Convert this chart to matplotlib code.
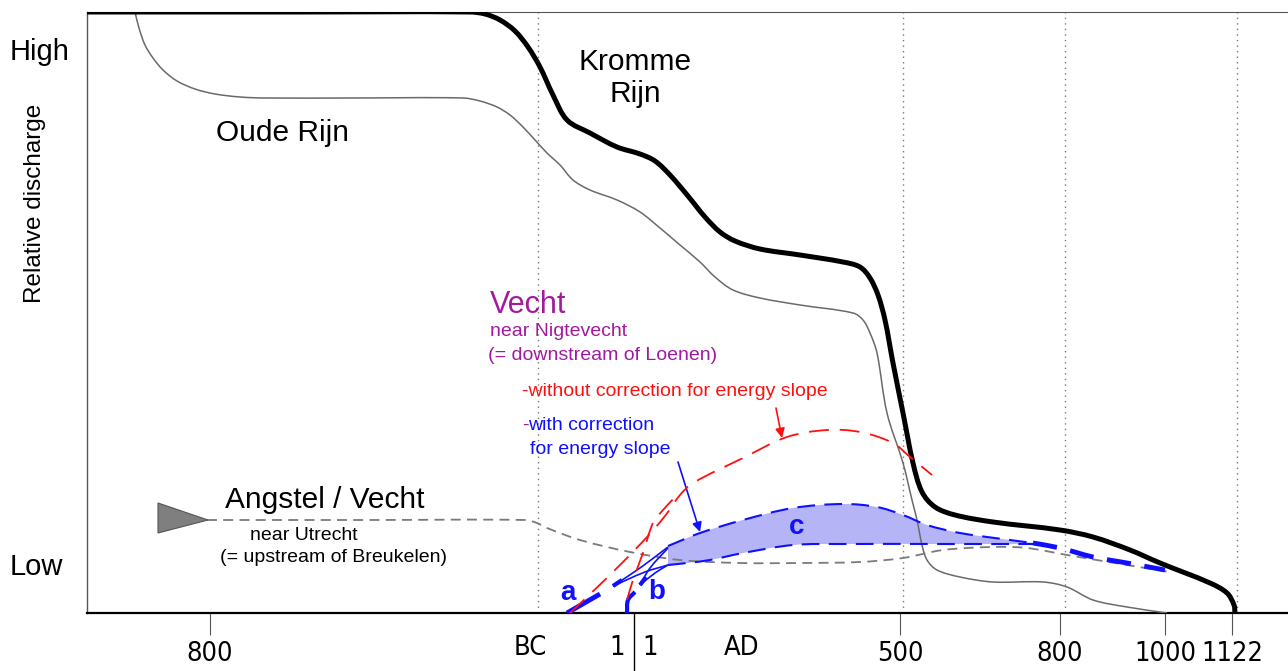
import numpy as np
import matplotlib
matplotlib.use("Agg")
import matplotlib.pyplot as plt
from matplotlib.path import Path
from matplotlib.patches import PathPatch, Polygon

plt.rcParams['font.family'] = ['Liberation Sans', 'DejaVu Sans']

# ---- data (x = time position on chart scale, y = relative discharge, 0 = low .. 601 = high)
kromme_x = [87, 300, 470, 485, 500, 515, 528, 540, 553, 567, 590, 617, 640, 655, 670, 688, 705, 720, 735, 760, 800,
            843, 860, 870, 878, 885, 893, 903, 913, 922, 935, 955, 993, 1060, 1093, 1130, 1160, 1210, 1227, 1234, 1235]
kromme_y = [601, 601, 601, 599, 593, 582, 566, 546, 518, 493, 480, 466, 459, 452, 438, 417, 396, 381, 372, 364, 358,
            351, 346, 335, 318, 293, 250, 200, 150, 121, 106, 98, 91, 83, 76, 63, 50, 30, 20, 8, 0]

oude_x = [135, 139, 145, 153, 163, 177, 195, 215, 240, 265, 350, 463, 480, 497, 510, 523, 535, 547, 560, 573, 590,
          617, 640, 660, 680, 700, 715, 733, 760, 800, 853, 863, 870, 877, 887, 903, 912, 917, 922, 927, 937, 960,
          993, 1043, 1067, 1093, 1127, 1167]
oude_y = [601, 585, 568, 555, 543, 532, 524, 519, 516, 515, 515, 515, 512, 506, 498, 486, 473, 460, 448, 433, 423,
          413, 401, 385, 368, 351, 336, 323, 315, 308, 300, 293, 280, 260, 200, 150, 113, 93, 68, 53, 43, 36,
          31, 31, 26, 13, 6, 0]

angstel_x = [207, 370, 525, 537, 547, 580, 630, 680, 740, 800, 860, 903, 943, 993, 1027, 1067, 1127, 1170]
angstel_y = [93, 93, 93, 90, 85, 73, 61, 53, 50, 50, 51, 55, 63, 66, 65, 58, 48, 41]

c_upper_x = [668, 700, 743, 793, 843, 877, 903, 927, 960, 1010, 1040]
c_upper_y = [67, 80, 93, 105, 109, 106, 98, 88, 80, 73, 69]
c_lower_x = [668, 687, 710, 743, 793, 843, 940, 1040]
c_lower_y = [48, 50, 53, 60, 68, 69, 69, 69]
c_tail_x = [1033, 1060, 1093, 1127, 1165]
c_tail_y = [70, 65, 56, 50, 43]

a_thick_x = [567, 600]
a_thick_y = [0, 19]
a_thin1_x = [613, 640, 668]
a_thin1_y = [27, 45, 66]
a_thin2_x = [613, 645, 668]
a_thin2_y = [27, 41, 48]

b_thick_x = [627, 628, 635]
b_thick_y = [0, 13, 21]
b_thin1_x = [640, 650, 668]
b_thin1_y = [28, 45, 65]
b_thin2_x = [640, 655, 668]
b_thin2_y = [28, 40, 48]

red_a_x = [570, 587, 620, 647, 665, 680, 693, 743, 787, 827, 860, 893, 910, 932]
red_a_y = [0, 16, 48, 76, 97, 118, 130, 155, 176, 183, 181, 170, 156, 138]
red_b_x = [627, 633, 643, 653, 663, 677]
red_b_y = [13, 33, 60, 90, 103, 118]

dotted_x = [538, 903, 1065, 1237]
tick_pos = [210, 900, 1060, 1165, 1232]
tick_labels = ["800", "500", "800", "1000", "1122"]
minor_pos = [530, 617, 650, 742]
minor_labels = ["BC", "1", "1", "AD"]

BLUE = '#1010ff'
RED = '#ff1010'
PURPLE = '#a3199f'


def smooth_path(xs, ys):
    pts = np.column_stack([xs, ys]).astype(float)
    n = len(pts)
    tans = []
    for i in range(n):
        a = pts[max(i - 1, 0)]
        b = pts[min(i + 1, n - 1)]
        d = b - a
        L = np.hypot(*d)
        tans.append(d / L if L > 0 else np.zeros(2))
    verts = [pts[0]]
    codes = [Path.MOVETO]
    for i in range(n - 1):
        p1, p2 = pts[i], pts[i + 1]
        seg = np.hypot(*(p2 - p1)) / 3.0
        verts += [p1 + tans[i] * seg, p2 - tans[i + 1] * seg, p2]
        codes += [Path.CURVE4] * 3
    return verts, codes


def draw_curve(ax, xs, ys, **kw):
    v, c = smooth_path(xs, ys)
    ax.add_patch(PathPatch(Path(v, c), fill=False, capstyle='butt', joinstyle='round', **kw))


fig = plt.figure(figsize=(12.88, 6.71), dpi=100)
ax = fig.add_axes([87 / 1288, 58 / 671, (1290 - 87) / 1288, 601 / 671])
ax.set_xlim(87, 1290)
ax.set_ylim(0, 601)

ax.spines['right'].set_visible(False)
ax.spines['left'].set_color('#555555')
ax.spines['left'].set_linewidth(1.0)
ax.spines['top'].set_color('#555555')
ax.spines['top'].set_linewidth(0.8)
ax.spines['bottom'].set_color('black')
ax.spines['bottom'].set_linewidth(1.6)

ax.set_yticks([])
ax.set_xticks(tick_pos)
ax.set_xticklabels(tick_labels)
ax.set_xticks(minor_pos, minor=True)
ax.set_xticklabels(minor_labels, minor=True)
ax.tick_params(axis='x', which='major', direction='out', length=16, width=0.8, color='#555555', pad=4)
ax.tick_params(axis='x', which='minor', length=0, pad=15.5)
for lab in ax.get_xticklabels(which='both'):
    lab.set_fontfamily(['DejaVu Sans'])
    lab.set_fontstretch('condensed')
    lab.set_fontsize(19.5)

# dotted reference lines
for xv in dotted_x:
    ax.axvline(xv, color='#777777', linestyle=(0, (1, 3)), linewidth=1.0, zorder=1)

# BC/AD divider
ax.plot([634, 634], [0, -60], color='black', linewidth=1.0, clip_on=False)

# rivers
draw_curve(ax, oude_x, oude_y, edgecolor='#6a6a6a', linewidth=1.1, zorder=3)
draw_curve(ax, kromme_x, kromme_y, edgecolor='black', linewidth=3.6, zorder=4)
draw_curve(ax, angstel_x, angstel_y, edgecolor='#7a7a7a', linewidth=1.3, linestyle=(0, (5.5, 3.5)), zorder=3)

# band c
vu, cu = smooth_path(c_upper_x, c_upper_y)
vl, cl = smooth_path(c_lower_x[::-1], c_lower_y[::-1])
verts = vu + [vl[0]] + vl[1:] + [vu[0]]
codes = cu + [Path.LINETO] + cl[1:] + [Path.CLOSEPOLY]
ax.add_patch(PathPatch(Path(verts, codes), facecolor='#b4b4f6', edgecolor='none', zorder=2))
draw_curve(ax, c_upper_x, c_upper_y, edgecolor=BLUE, linewidth=1.5, linestyle=(0, (8.5, 4.5)), zorder=5)
draw_curve(ax, c_lower_x, c_lower_y, edgecolor=BLUE, linewidth=1.5, linestyle=(0, (8.5, 4.5)), zorder=5)
draw_curve(ax, c_tail_x, c_tail_y, edgecolor=BLUE, linewidth=3.5, linestyle=(0, (5.0, 2.8)), zorder=5)

# a and b starts
ax.plot(a_thick_x, a_thick_y, color=BLUE, linewidth=3.5, solid_capstyle='butt', zorder=5)
draw_curve(ax, a_thin1_x, a_thin1_y, edgecolor=BLUE, linewidth=1.2, zorder=5)
draw_curve(ax, a_thin2_x, a_thin2_y, edgecolor=BLUE, linewidth=1.2, zorder=5)
ax.plot([613, 622], [27, 33], color=BLUE, linewidth=3.0, solid_capstyle='butt', zorder=5)
draw_curve(ax, b_thick_x, b_thick_y, edgecolor=BLUE, linewidth=3.0, zorder=5)
draw_curve(ax, b_thin1_x, b_thin1_y, edgecolor=BLUE, linewidth=1.2, zorder=5)
draw_curve(ax, b_thin2_x, b_thin2_y, edgecolor=BLUE, linewidth=1.2, zorder=5)
ax.plot([640, 646], [28, 36], color=BLUE, linewidth=3.0, solid_capstyle='butt', zorder=5)

# red curves
draw_curve(ax, red_a_x, red_a_y, edgecolor=RED, linewidth=1.3, linestyle=(0, (11, 6)), zorder=5)
draw_curve(ax, red_b_x, red_b_y, edgecolor=RED, linewidth=1.3, linestyle=(0, (11, 6)), zorder=5)

# arrows
ax.annotate('', xy=(782, 175), xytext=(776, 205),
            arrowprops=dict(arrowstyle='-|>', color=RED, lw=1.2, mutation_scale=14, shrinkA=0, shrinkB=0))
ax.annotate('', xy=(700, 81), xytext=(678, 151),
            arrowprops=dict(arrowstyle='-|>', color=BLUE, lw=1.2, mutation_scale=14, shrinkA=0, shrinkB=0))

# triangle
ax.add_patch(Polygon([(158, 110), (158, 80), (208, 93)], closed=True, facecolor='#7f7f7f',
                     edgecolor='#555555', linewidth=0.8, clip_on=False, zorder=4))

# texts
kw = dict(clip_on=False)
ax.text(10, 561, 'High', fontsize=21, ha='left', va='center', **kw)
ax.text(10, 46, 'Low', fontsize=21, ha='left', va='center', **kw)
ax.text(35, 410, 'Relative discharge', fontsize=17.5, rotation=90, ha='center', va='center', **kw)
ax.text(282, 480, 'Oude Rijn', fontsize=21.5, ha='center', va='center')
ax.text(635, 535, 'Kromme\nRijn', fontsize=21.5, ha='center', va='center', linespacing=1.2)
ax.text(490, 308, 'Vecht', fontsize=22, color=PURPLE, ha='left', va='center')
ax.text(490, 281, 'near Nigtevecht', fontsize=14, color=PURPLE, ha='left', va='center')
ax.text(488, 258, '(= downstream of Loenen)', fontsize=14, color=PURPLE, ha='left', va='center')
ax.text(522, 221, '-without correction for energy slope', fontsize=14, color=RED, ha='left', va='center')
ax.text(522, 188, '-', fontsize=14, color=PURPLE, ha='left', va='center')
ax.text(528.5, 188, 'with correction', fontsize=14, color=BLUE, ha='left', va='center')
ax.text(530, 163, 'for energy slope', fontsize=14, color=BLUE, ha='left', va='center')
ax.text(225, 113, 'Angstel / Vecht', fontsize=21.5, ha='left', va='center')
ax.text(250, 78, 'near Utrecht', fontsize=14, ha='left', va='center')
ax.text(220, 55, '(= upstream of Breukelen)', fontsize=14, ha='left', va='center')
ax.text(568, 20, 'a', fontsize=20, fontweight='bold', color=BLUE, ha='center', va='center', zorder=6)
ax.text(657, 21, 'b', fontsize=20, fontweight='bold', color=BLUE, ha='center', va='center', zorder=6)
ax.text(797, 86, 'c', fontsize=20, fontweight='bold', color=BLUE, ha='center', va='center', zorder=6)

fig.savefig('out.png', dpi=100)
